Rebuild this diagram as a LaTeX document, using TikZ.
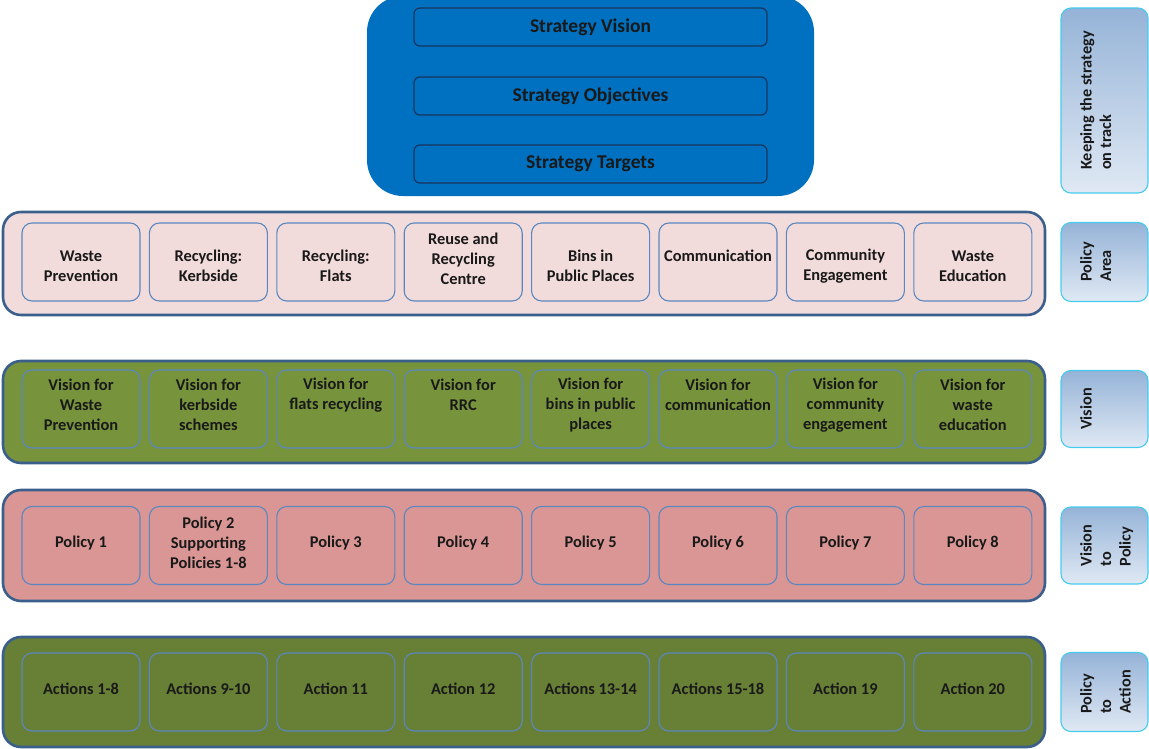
\documentclass[tikz,border=0pt]{standalone}
\usepackage{fontspec}
\setmainfont{Carlito}
\definecolor{topblue}{HTML}{0070C0}
\definecolor{topline}{HTML}{17365D}
\definecolor{rowborder}{HTML}{3A5F8C}
\definecolor{cellborder}{HTML}{5B87C0}
\definecolor{pinkrow}{HTML}{F2DCDB}
\definecolor{greenrow}{HTML}{77933C}
\definecolor{redrow}{HTML}{D99694}
\definecolor{darkgreenrow}{HTML}{687F36}
\definecolor{labborder}{HTML}{45CBEF}
\definecolor{labtop}{HTML}{95B3D7}
\definecolor{labbot}{HTML}{E0E9F4}
\begin{document}
\begin{tikzpicture}[x=1pt,y=-1pt,
  rowbox/.style={draw=rowborder, line width=2.6pt, rounded corners=18pt, minimum width=1042pt, inner sep=0pt},
  cell/.style={draw=cellborder, line width=1.1pt, rounded corners=10pt, minimum width=118pt, minimum height=78pt, inner sep=0pt},
  celltext/.style={align=center, font=\fontsize{16.4}{20}\selectfont\bfseries, text=black!90, inner sep=0pt},
  stratbox/.style={draw=topline, line width=1.2pt, rounded corners=6pt, fill=topblue, minimum width=353pt, minimum height=38pt, inner sep=0pt, font=\fontsize{19.5}{22}\selectfont\bfseries, text=black!90},
  labbox/.style={draw=labborder, line width=1.1pt, rounded corners=10pt, top color=labtop, bottom color=labbot, minimum width=87pt, inner sep=0pt},
  labtext/.style={rotate=90, anchor=north, align=left, font=\fontsize{16.3}{19.5}\selectfont\bfseries, text=black!90, inner sep=0pt}
]
\useasboundingbox (0,0) rectangle (1149,749);

% top strategy block
\node[fill=topblue, rounded corners=36pt, minimum width=447pt, minimum height=200pt, inner sep=0pt] (top) at (590.5,96) {};
\node[stratbox] (sv) at (590.5,27) {Strategy Vision};
\node[stratbox] (so) at (590.5,96) {Strategy Objectives};
\node[stratbox] (st) at (590.5,164) {Strategy Targets};

% rows
\node[rowbox, fill=pinkrow, minimum height=103pt] (r1) at (524,263.5) {};
\node[rowbox, fill=greenrow, minimum height=102pt] (r2) at (524,412) {};
\node[rowbox, fill=redrow, minimum height=111pt] (r3) at (524,545.5) {};
\node[rowbox, fill=darkgreenrow, minimum height=110pt] (r4) at (524,692) {};

% row 1
\foreach \t/\dy [count=\i from 0] in {{Waste\\Prevention}/4, {Recycling:\\Kerbside}/4, {Recycling:\\Flats}/4, {Reuse and\\Recycling\\Centre}/-3, {Bins in\\Public Places}/4, {Communication}/-6, {Community\\Engagement}/4, {Waste\\Education}/4}
{
  \node[cell, fill=pinkrow] (a\i) at (81+127.4*\i,262) {};
  \node[celltext] (at\i) at (81+127.4*\i,262+\dy) {\t};
}

% row 2
\foreach \t/\dy [count=\i from 0] in {{Vision for\\Waste\\Prevention}/0, {Vision for\\kerbside\\schemes}/0, {Vision for\\flats recycling}/-10, {Vision for\\RRC}/-10, {Vision for\\bins in public\\places}/0, {Vision for\\communication}/-10, {Vision for\\community\\engagement}/0, {Vision for\\waste\\education}/0}
{
  \node[cell, fill=greenrow] (b\i) at (81+127.4*\i,409) {};
  \node[celltext] (bt\i) at (81+127.4*\i,405+\dy) {\t};
}

% row 3
\foreach \t [count=\i from 0] in {Policy 1, Policy 2\\Supporting\\Policies 1-8, Policy 3, Policy 4, Policy 5, Policy 6, Policy 7, Policy 8}
{
  \node[cell, fill=redrow] (c\i) at (81+127.4*\i,545.5) {};
  \node[celltext] (ct\i) at (81+127.4*\i,543) {\t};
}

% row 4
\foreach \t [count=\i from 0] in {Actions 1-8, Actions 9-10, Action 11, Action 12, Actions 13-14, Actions 15-18, Action 19, Action 20}
{
  \node[cell, fill=darkgreenrow] (d\i) at (81+127.4*\i,692) {};
  \node[celltext] (dt\i) at (81+127.4*\i,689) {\t};
}

% right labels
\node[labbox, minimum height=185pt] (l0) at (1104.5,100.5) {};
\node[labtext] (t0) at (1080,100.5) {Keeping the strategy\\on track};
\node[labbox, minimum height=79pt] (l1) at (1104.5,262) {};
\node[labtext] (t1) at (1080,262) {Policy\\Area};
\node[labbox, minimum height=77pt] (l2) at (1104.5,409) {};
\node[labtext] (t2) at (1080,409) {Vision};
\node[labbox, minimum height=77pt] (l3) at (1104.5,545.5) {};
\node[labtext] (t3) at (1080,545.5) {Vision\\to\\Policy};
\node[labbox, minimum height=79pt] (l4) at (1104.5,692) {};
\node[labtext] (t4) at (1080,692) {Policy\\to\\Action};
\end{tikzpicture}
\end{document}
